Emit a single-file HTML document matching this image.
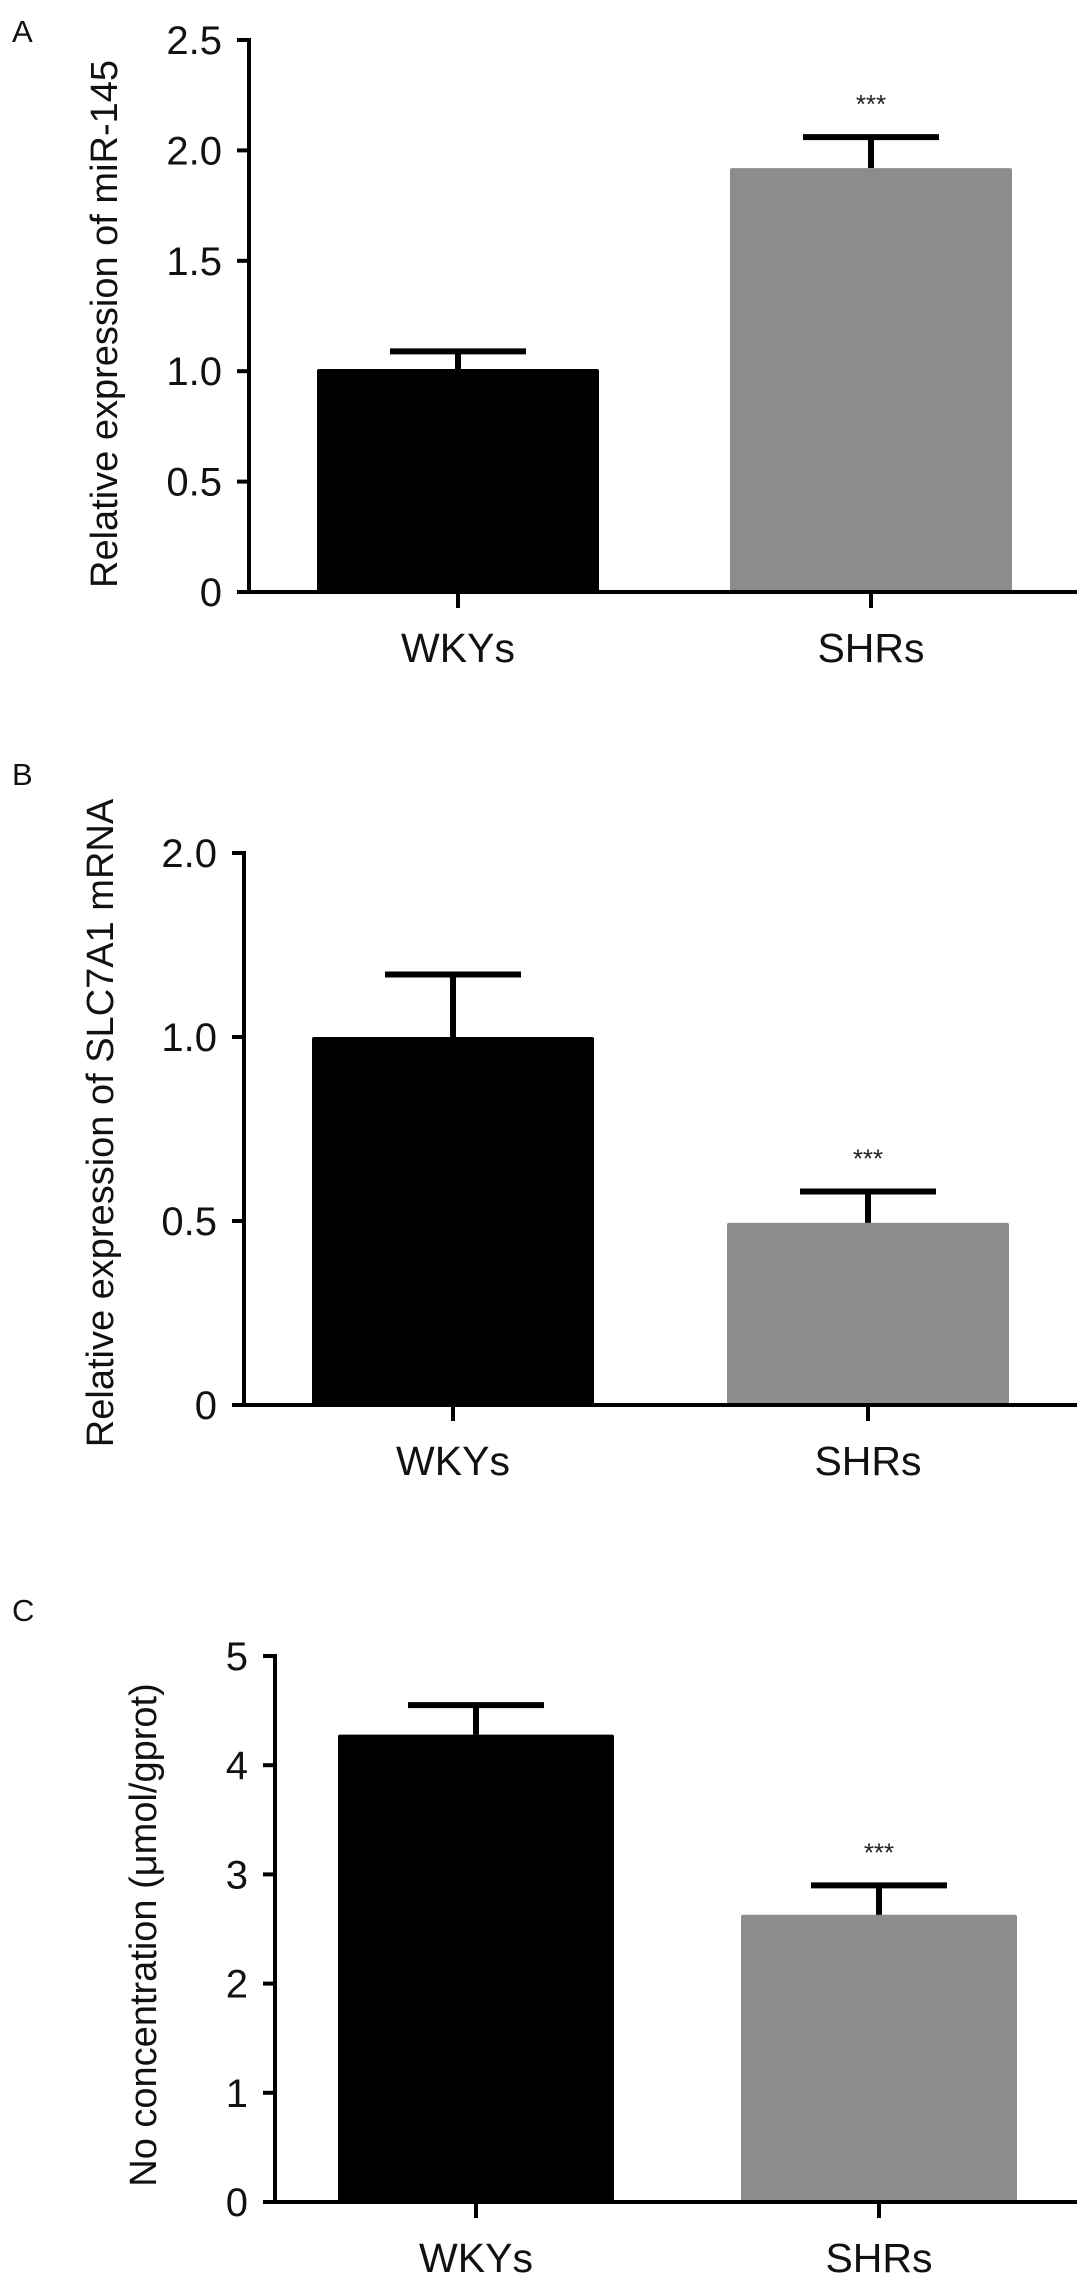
<!DOCTYPE html>
<html><head><meta charset="utf-8">
<style>
html,body{margin:0;padding:0;background:#fff;}
svg{display:block;font-family:"Liberation Sans",Arial,sans-serif;}
</style></head>
<body>
<svg id="fig" width="1087" height="2274" viewBox="0 0 1087 2274" xmlns="http://www.w3.org/2000/svg"></svg>
<script>
// Panel A data
const catsA = ["WKYs", "SHRs"];
const valsA = [1.01, 1.92];
const errA = [0.08, 0.14];
const ticksA = [0, 0.5, 1.0, 1.5, 2.0, 2.5];
const tickLabelsA = ["0", "0.5", "1.0", "1.5", "2.0", "2.5"];
// Panel B data (labels evenly spaced: piecewise axis)
const catsB = ["WKYs", "SHRs"];
const valsB = [1.0, 0.495];
const errB = [0.34, 0.085];
const ticksB = [0, 0.5, 1.0, 2.0];
const tickLabelsB = ["0", "0.5", "1.0", "2.0"];
// Panel C data
const catsC = ["WKYs", "SHRs"];
const valsC = [4.28, 2.63];
const errC = [0.27, 0.27];
const ticksC = [0, 1, 2, 3, 4, 5];
const tickLabelsC = ["0", "1", "2", "3", "4", "5"];

const NS = "http://www.w3.org/2000/svg";
const svg = document.getElementById("fig");
function mk(tag, attrs, parent, text) {
  const e = document.createElementNS(NS, tag);
  for (const k in attrs) e.setAttribute(k, attrs[k]);
  if (text !== undefined) e.textContent = text;
  (parent || svg).appendChild(e);
  return e;
}
function piecewise(ticks, y0, y1) {
  const step = (y0 - y1) / (ticks.length - 1);
  return function (v) {
    for (let i = 0; i < ticks.length - 1; i++) {
      if (v <= ticks[i + 1] || i === ticks.length - 2) {
        const t = (v - ticks[i]) / (ticks[i + 1] - ticks[i]);
        return y0 - (i + t) * step;
      }
    }
  };
}
function panel(cfg) {
  const g = mk("g", {});
  
  
  const y = piecewise(cfg.ticks, cfg.y0, cfg.yTop);
  const L = mk("text", {x: cfg.letterX, y: cfg.letterY, "font-size": 31, fill: "#111"}, g, cfg.letter);
  
  
  // bars
  const colors = ["#000", "#8c8c8c"];
  cfg.cats.forEach(function (c, i) {
    const bx = cfg.barX[i];
    const top = y(cfg.vals[i]);
    const r = mk("rect", {x: bx, y: top, width: cfg.barW, height: cfg.y0 - top, fill: colors[i], rx: 2}, g);
    
    
    const cx = bx + cfg.barW / 2;
    const et = y(cfg.vals[i] + cfg.errs[i]);
    const eg = mk("g", {stroke: "#000", "stroke-width": 6}, g);
    
    
    mk("line", {x1: cx, x2: cx, y1: top, y2: et}, eg);
    mk("line", {x1: cx - 68, x2: cx + 68, y1: et, y2: et}, eg);
    if (i === 1) {
      const s = mk("text", {x: cx, y: et - 24, "font-size": 26, "text-anchor": "middle", fill: "#222"}, g, "***");
      
      
    }
    const tk = mk("line", {x1: cx, x2: cx, y1: cfg.y0, y2: cfg.y0 + 16, stroke: "#000", "stroke-width": 4}, g);
    
    
    const xl = mk("text", {x: cx, y: cfg.y0 + 70, "font-size": 41, "text-anchor": "middle", fill: "#111"}, g, c);
    
    
  });
  // axes
  const ya = mk("line", {x1: cfg.axX, x2: cfg.axX, y1: cfg.yTop - 2, y2: cfg.y0 + 2, stroke: "#000", "stroke-width": 4}, g);
  
  
  const xa = mk("line", {x1: cfg.axX - 12, x2: 1077, y1: cfg.y0, y2: cfg.y0, stroke: "#000", "stroke-width": 4}, g);
  
  
  cfg.ticks.forEach(function (t, i) {
    const ty = y(t);
    const tl = mk("line", {x1: cfg.axX - 12, x2: cfg.axX, y1: ty, y2: ty, stroke: "#000", "stroke-width": 4}, g);
    
    
    const tx = mk("text", {x: cfg.axX - 27, y: ty + 14, "font-size": 40, "text-anchor": "end", fill: "#111"}, g, cfg.tickLabels[i]);
    
    
  });
  const yt = mk("text", {x: 0, y: 0, "font-size": 38, "text-anchor": "middle", fill: "#111",
    transform: "translate(" + cfg.titleX + "," + cfg.titleY + ") rotate(-90)"}, g, cfg.title);
  
  
}
panel({name: "panel-a", letter: "A", letterX: 12, letterY: 42, cats: catsA, vals: valsA, errs: errA,
  ticks: ticksA, tickLabels: tickLabelsA, y0: 592, yTop: 40, axX: 249, barX: [317, 730], barW: 282,
  title: "Relative expression of miR-145", titleX: 117, titleY: 324});
panel({name: "panel-b", letter: "B", letterX: 12, letterY: 785, cats: catsB, vals: valsB, errs: errB,
  ticks: ticksB, tickLabels: tickLabelsB, y0: 1405, yTop: 853, axX: 244, barX: [312, 727], barW: 282,
  title: "Relative expression of SLC7A1 mRNA", titleX: 113, titleY: 1123});
panel({name: "panel-c", letter: "C", letterX: 12, letterY: 1621, cats: catsC, vals: valsC, errs: errC,
  ticks: ticksC, tickLabels: tickLabelsC, y0: 2202, yTop: 1656, axX: 275, barX: [338, 741], barW: 276,
  title: "No concentration (\u03bcmol/gprot)", titleX: 156, titleY: 1935});
</script>
</body></html>
